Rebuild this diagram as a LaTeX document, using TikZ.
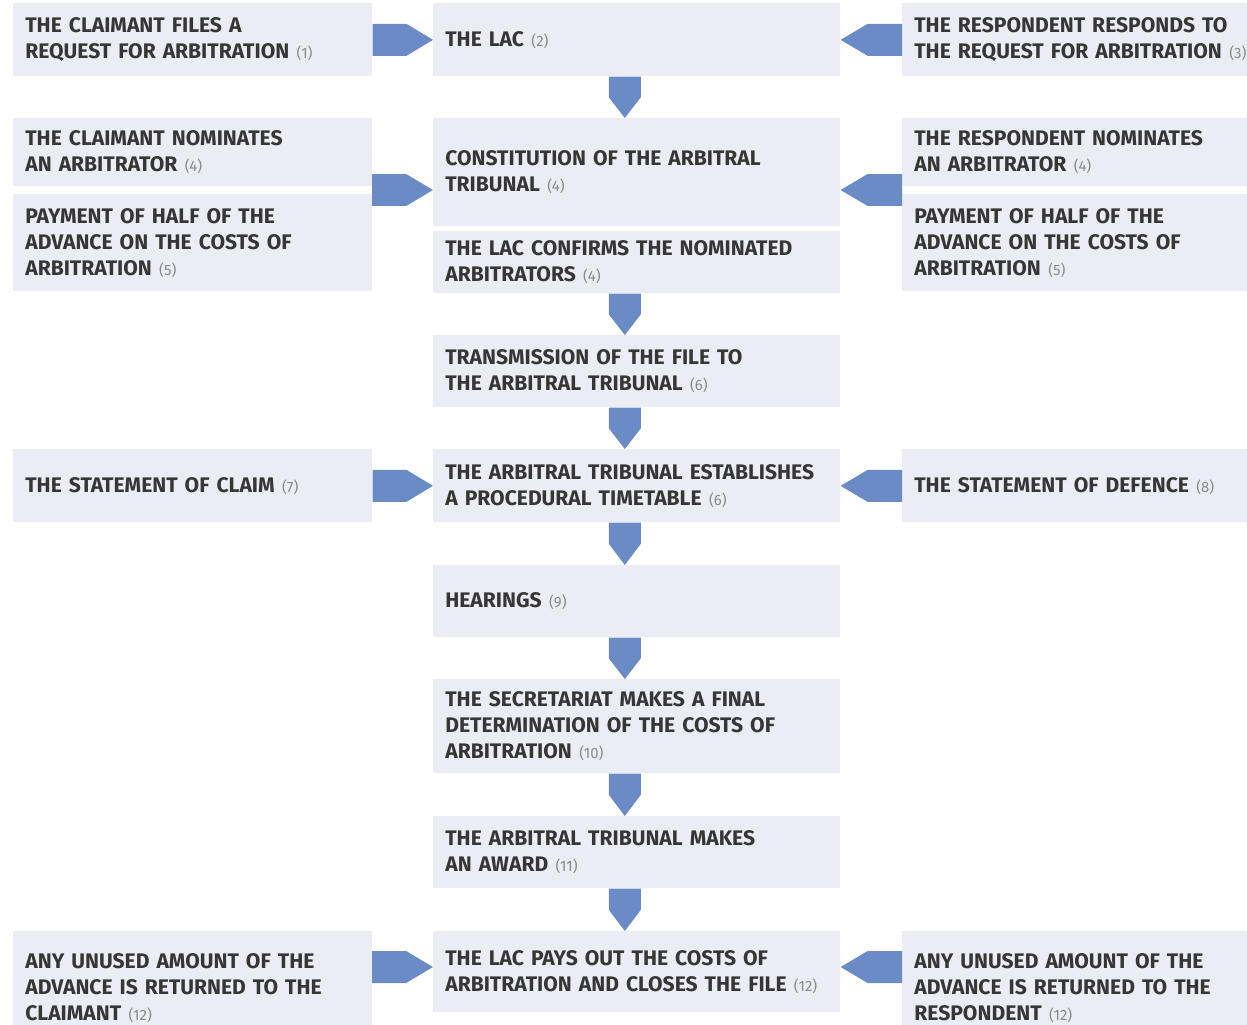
\documentclass[tikz,border=0pt]{standalone}
\usepackage{fontspec}
\setmainfont{Fira Sans}
\usetikzlibrary{calc,positioning}
\definecolor{boxfill}{HTML}{ECEDF4}
\definecolor{arrowblue}{HTML}{6B8BC6}
\definecolor{textgray}{HTML}{363636}
\definecolor{numgray}{HTML}{8A8A8A}
\newcommand{\refno}[1]{\hspace{0.35em}{\mdseries\fontsize{8.5}{10}\selectfont\color{numgray}(#1)}}
\begin{document}
\begin{tikzpicture}[x=0.02cm,y=-0.02cm]

    \tikzstyle{commonBox}=[fill=boxfill, text=textgray, font=\fontsize{12}{14.8}\selectfont\bfseries, align=left, anchor=north west, inner xsep=0.24cm, inner ysep=0pt]
    \tikzstyle{sideBox}=[commonBox, text width=6.7cm]
    \tikzstyle{stepBox}=[commonBox, text width=7.66cm]

    % Block arrows
    \def \ahw {0.32cm}
    \def \aoff {0.24cm}
    \tikzstyle{sideBlock}=[fill=arrowblue, to path={let \p1=(\tikztostart), \p2=(\tikztotarget), \p3=($(\tikztotarget)!0.44!(\tikztostart)$) in (\x1,\y1+\ahw) -- (\x3,\y1+\ahw) -- (\x2,\y1) -- (\x3,\y1-\ahw) -- (\x1,\y1-\ahw) -- cycle}]
    \tikzstyle{downBlock}=[fill=arrowblue, to path={let \p1=(\tikztostart), \p2=(\tikztotarget), \p3=($(\tikztotarget)!0.5!(\tikztostart)$) in (\x1-\aoff-\ahw,\y1) -- (\x1-\aoff-\ahw,\y3) -- (\x1-\aoff,\y2) -- (\x1-\aoff+\ahw,\y3) -- (\x1-\aoff+\ahw,\y1) -- cycle}]

    \useasboundingbox (0,0) rectangle (1247,1024);

    % Request
    \node at (13, 3)   [sideBox, minimum height=1.46cm] (L1) {THE CLAIMANT FILES A\\REQUEST FOR ARBITRATION\refno{1}};
    \node at (433, 3)  [stepBox, minimum height=1.46cm] (C1) {THE LAC\refno{2}};
    \node at (902, 3)  [sideBox, minimum height=1.46cm] (R1) {THE RESPONDENT RESPONDS TO\\THE REQUEST FOR ARBITRATION\refno{3}};

    % Tribunal
    \node at (13, 118)  [sideBox, minimum height=1.36cm] (L2a) {THE CLAIMANT NOMINATES\\AN ARBITRATOR\refno{4}};
    \node at (13, 194)  [sideBox, minimum height=1.94cm] (L2b) {PAYMENT OF HALF OF THE\\ADVANCE ON THE COSTS OF\\ARBITRATION\refno{5}};
    \node at (433, 118) [stepBox, minimum height=2.16cm] (C2) {CONSTITUTION OF THE ARBITRAL\\TRIBUNAL\refno{4}};
    \node at (433, 231) [stepBox, minimum height=1.24cm] (C3) {THE LAC CONFIRMS THE NOMINATED\\ARBITRATORS\refno{4}};
    \node at (902, 118) [sideBox, minimum height=1.36cm] (R2a) {THE RESPONDENT NOMINATES\\AN ARBITRATOR\refno{4}};
    \node at (902, 194) [sideBox, minimum height=1.94cm] (R2b) {PAYMENT OF HALF OF THE\\ADVANCE ON THE COSTS OF\\ARBITRATION\refno{5}};
    \coordinate (L2m) at (372, 190);
    \coordinate (R2m) at (902, 190);

    \node at (433, 335) [stepBox, minimum height=1.44cm] (C4) {TRANSMISSION OF THE FILE TO\\THE ARBITRAL TRIBUNAL\refno{6}};

    % Statements
    \node at (13, 449)  [sideBox, minimum height=1.46cm] (L3) {THE STATEMENT OF CLAIM\refno{7}};
    \node at (433, 449) [stepBox, minimum height=1.46cm] (C5) {THE ARBITRAL TRIBUNAL ESTABLISHES\\A PROCEDURAL TIMETABLE\refno{6}};
    \node at (902, 449) [sideBox, minimum height=1.46cm] (R3) {THE STATEMENT OF DEFENCE\refno{8}};

    \node at (433, 565) [stepBox, minimum height=1.44cm] (C6) {HEARINGS\refno{9}};
    \node at (433, 679) [stepBox, minimum height=1.88cm] (C7) {THE SECRETARIAT MAKES A FINAL\\DETERMINATION OF THE COSTS OF\\ARBITRATION\refno{10}};
    \node at (433, 816) [stepBox, minimum height=1.44cm] (C8) {THE ARBITRAL TRIBUNAL MAKES\\AN AWARD\refno{11}};

    % Closing
    \node at (13, 931)  [sideBox, minimum height=2.28cm] (L4) {ANY UNUSED AMOUNT OF THE\\ADVANCE IS RETURNED TO THE\\CLAIMANT\refno{12}};
    \node at (433, 931) [stepBox, minimum height=1.62cm] (C9) {THE LAC PAYS OUT THE COSTS OF\\ARBITRATION AND CLOSES THE FILE\refno{12}};
    \node at (902, 931) [sideBox, minimum height=2.28cm] (R4) {ANY UNUSED AMOUNT OF THE\\ADVANCE IS RETURNED TO THE\\RESPONDENT\refno{12}};
    \coordinate (L4m) at (372, 967);
    \coordinate (R4m) at (902, 967);

    % Arrows in
    \path [sideBlock] (L1.east) to (C1.west);
    \path [sideBlock] (R1.west) to (C1.east);
    \path [sideBlock] (L2m) to (C2.west);
    \path [sideBlock] (R2m) to (C2.east);
    \path [sideBlock] (L3.east) to (C5.west);
    \path [sideBlock] (R3.west) to (C5.east);
    \path [sideBlock] (L4m) to (C9.west);
    \path [sideBlock] (R4m) to (C9.east);

    % Arrows down
    \path [downBlock] (C1.south) to (C2.north);
    \path [downBlock] (C3.south) to (C4.north);
    \path [downBlock] (C4.south) to (C5.north);
    \path [downBlock] (C5.south) to (C6.north);
    \path [downBlock] (C6.south) to (C7.north);
    \path [downBlock] (C7.south) to (C8.north);
    \path [downBlock] (C8.south) to (C9.north);

\end{tikzpicture}
\end{document}
